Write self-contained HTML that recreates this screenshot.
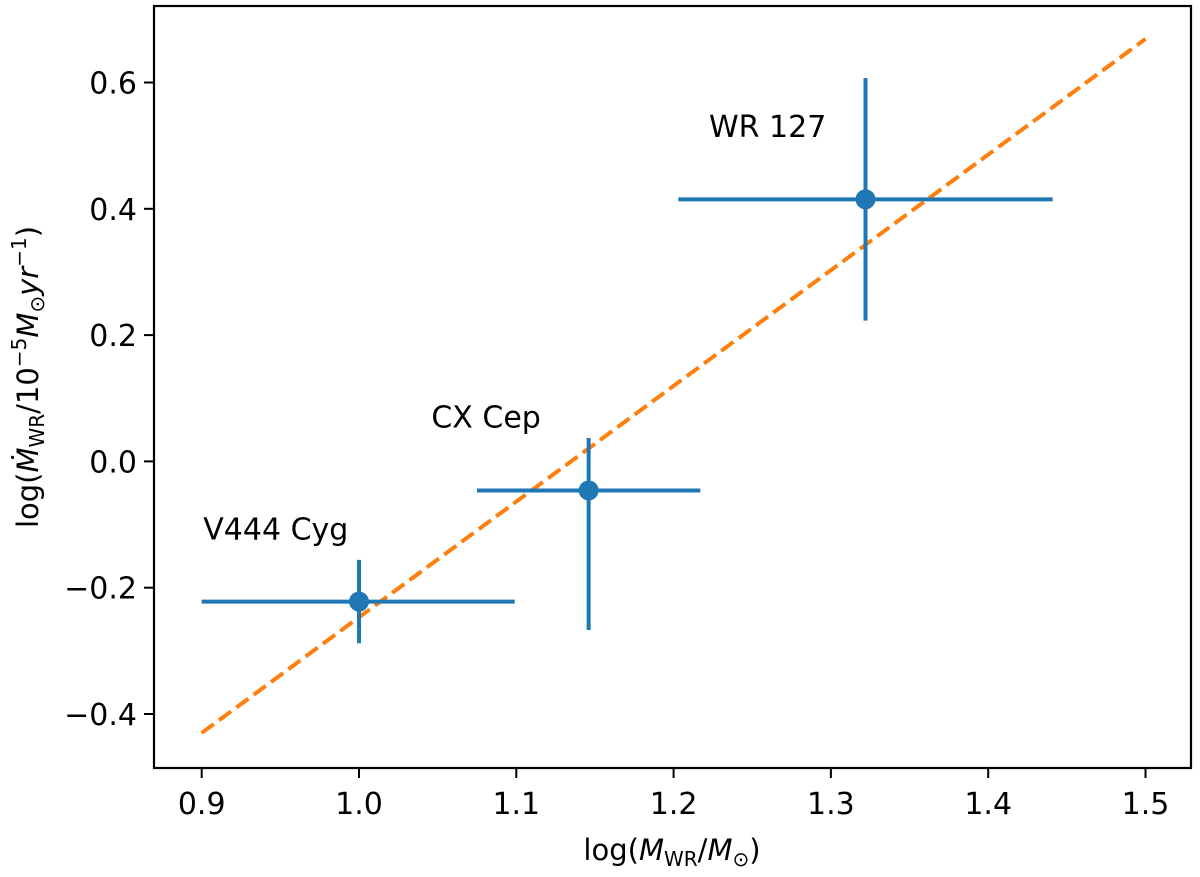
<!DOCTYPE html>
<html><head><meta charset="utf-8"><style>
body{margin:0;background:#fff}
svg text{font-family:"DejaVu Sans","Liberation Sans",sans-serif;fill:#000}
</style></head><body>
<svg id="chart" width="1200" height="872" xmlns="http://www.w3.org/2000/svg">
<rect width="1200" height="872" fill="#fff"/>
<g id="marks"></g>
<rect x="154" y="6" width="1037" height="762" fill="none" stroke="#000" stroke-width="2.2"/>
<g id="ticks"></g>
<text x="672" y="860" font-size="29" text-anchor="middle">log(<tspan font-style="italic">M</tspan><tspan font-size="20" dy="6">WR</tspan><tspan dy="-6">/</tspan><tspan font-style="italic">M</tspan><tspan font-size="20" dy="6">⊙</tspan><tspan dy="-6">)</tspan></text>
<text transform="translate(38,377) rotate(-90)" font-size="29" text-anchor="middle">log(<tspan font-style="italic">Ṁ</tspan><tspan font-size="20" dy="6">WR</tspan><tspan dy="-6">/10</tspan><tspan font-size="20" dy="-12">−5</tspan><tspan font-style="italic" dy="12">M</tspan><tspan font-size="20" dy="6">⊙</tspan><tspan font-style="italic" dy="-6">yr</tspan><tspan font-size="20" dy="-12">−1</tspan><tspan dy="12">)</tspan></text>
</svg>
<script>
const names=["V444 Cyg","CX Cep","WR 127"];
const xVals=[1.0,1.146,1.322];
const yVals=[-0.222,-0.046,0.415];
const xLo=[0.9,1.075,1.203];
const xHi=[1.099,1.217,1.441];
const yLo=[-0.288,-0.267,0.223];
const yHi=[-0.156,0.037,0.607];
const fitX=[0.9,1.5];
const fitY=[-0.430,0.669];
const xTicks=[0.9,1.0,1.1,1.2,1.3,1.4,1.5];
const yTicks=[-0.4,-0.2,0.0,0.2,0.4,0.6];
const labelPos=[[0.901,-0.124],[1.046,0.054],[1.2225,0.514]];

const NS="http://www.w3.org/2000/svg";
const sx=v=>359+(v-1.0)*1573;
const sy=v=>587.7-(v+0.2)*631.5;
const marks=document.getElementById('marks');
const ticks=document.getElementById('ticks');
function mk(tag,attrs,parent){const e=document.createElementNS(NS,tag);for(const k in attrs)e.setAttribute(k,attrs[k]);parent.appendChild(e);return e;}

const fit=mk('line',{x1:sx(fitX[0]),y1:sy(fitY[0]),x2:sx(fitX[1]),y2:sy(fitY[1]),stroke:'#ff7f0e','stroke-width':4,'stroke-dasharray':'15 6.5'},marks);



names.forEach((n,i)=>{
  const g=mk('g',{},marks);
  
  
  mk('line',{x1:sx(xLo[i]),x2:sx(xHi[i]),y1:sy(yVals[i]),y2:sy(yVals[i]),stroke:'#1f77b4','stroke-width':4},g);
  mk('line',{x1:sx(xVals[i]),x2:sx(xVals[i]),y1:sy(yLo[i]),y2:sy(yHi[i]),stroke:'#1f77b4','stroke-width':4},g);
  mk('circle',{cx:sx(xVals[i]),cy:sy(yVals[i]),r:10,fill:'#1f77b4'},g);
  const t=mk('text',{x:sx(labelPos[i][0]),y:sy(labelPos[i][1]),'font-size':30},marks);
  t.textContent=n;
  
  
});

xTicks.forEach(v=>{
  const x=sx(v);
  const l=mk('line',{x1:x,x2:x,y1:768,y2:778,stroke:'#000','stroke-width':2},ticks);
  
  
  const t=mk('text',{x:x,y:814,'font-size':30,'text-anchor':'middle'},ticks);
  t.textContent=v.toFixed(1);
  
  
});
yTicks.forEach(v=>{
  const y=sy(v);
  const l=mk('line',{x1:144,x2:154,y1:y,y2:y,stroke:'#000','stroke-width':2},ticks);
  
  
  const t=mk('text',{x:137,y:y+11,'font-size':30,'text-anchor':'end'},ticks);
  t.textContent=(v<0?'−':'')+Math.abs(v).toFixed(1);
  
  
});
</script>
</body></html>
